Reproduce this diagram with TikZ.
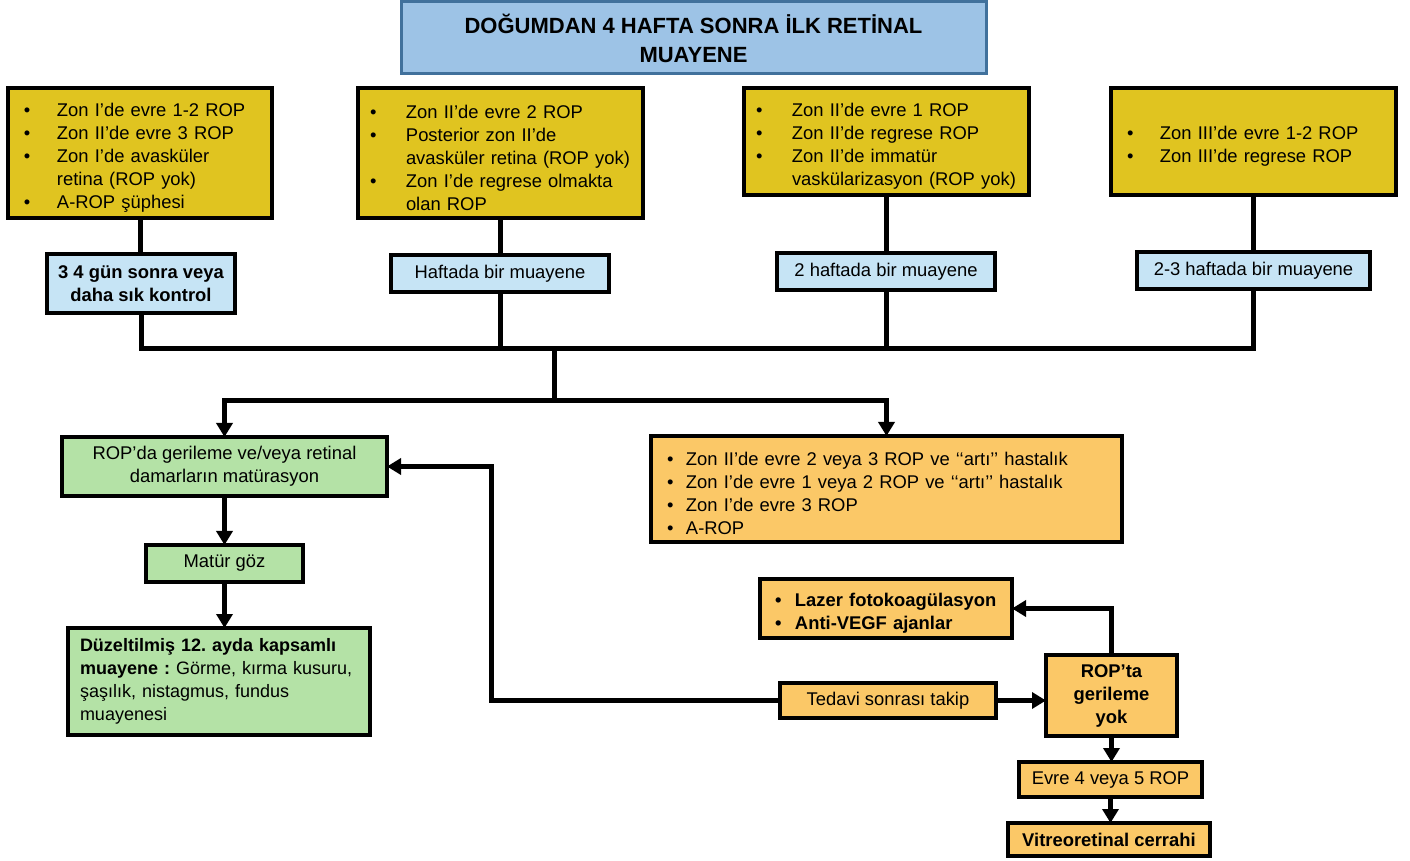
\documentclass[tikz,border=0pt]{standalone}
\usepackage{fontspec}
\setmainfont{Liberation Sans}
\usetikzlibrary{arrows.meta}
\frenchspacing
\definecolor{titleblue}{HTML}{9DC3E6}
\definecolor{titleline}{HTML}{41719C}
\definecolor{zonyellow}{HTML}{E0C420}
\definecolor{visitblue}{HTML}{C6E4F5}
\definecolor{okgreen}{HTML}{B4E2A6}
\definecolor{treatorange}{HTML}{FBC867}
\newcommand{\blt}[2][16.5pt]{\par\noindent\hangindent=#1\hangafter=1\makebox[#1][l]{\textbullet}#2\par}
\begin{document}
\begin{tikzpicture}[x=0.5pt,y=-0.5pt,>={Triangle[length=7pt,width=8pt]},line width=2.5pt,
	font=\fontsize{9.2}{11.5}\selectfont,
	box/.style={draw=black,line width=2pt,inner sep=0pt,outer sep=0pt},
	zon/.style={box,fill=zonyellow,align=left,inner xsep=8pt},
	visit/.style={box,fill=visitblue,align=center},
	okbox/.style={box,fill=okgreen,align=center},
	treat/.style={box,fill=treatorange,align=center}]
		\useasboundingbox (0,0) rectangle (1410,861);
		\node[box,fill=titleblue,draw=titleline,line width=1.5pt,minimum width=292.5pt,minimum height=36pt,align=center,font=\fontsize{11}{14.5}\selectfont\bfseries] (title) at (693.5,38) {DOĞUMDAN 4 HAFTA SONRA İLK RETİNAL\\MUAYENE};
		\node[zon,text width=116pt,minimum height=65pt] (Y1) at (140,153) {\blt{Zon I’de evre 1-2 ROP}\blt{Zon II’de evre 3 ROP}\blt{Zon I’de avasküler\break retina (ROP yok)}\blt{A-ROP şüphesi}};
		\node[zon,inner xsep=6pt,text width=130.5pt,minimum height=65pt] (Y2) at (500.5,153) {\blt[18pt]{Zon II’de evre 2 ROP}\blt[18pt]{Posterior zon II’de\break avasküler retina (ROP yok)}\blt[18pt]{Zon I’de regrese olmakta\break olan ROP}};
		\node[zon,inner xsep=6pt,text width=130.5pt,minimum height=53.5pt] (Y3) at (886.5,141.5) {\blt[18pt]{Zon II’de evre 1 ROP}\blt[18pt]{Zon II’de regrese ROP}\blt[18pt]{Zon II’de immatür\break vaskülarizasyon (ROP yok)}};
		\node[zon,text width=126.5pt,minimum height=53.5pt] (Y4) at (1253.5,141.5) {\blt{Zon III’de evre 1-2 ROP}\blt{Zon III’de regrese ROP}};
		\node[visit,font=\fontsize{9.2}{11.5}\selectfont\bfseries,minimum width=94pt,minimum height=29.5pt] (B1) at (141,283.5) {3 4 gün sonra veya\\daha sık kontrol};
		\node[visit,minimum width=109pt,minimum height=18.5pt] (B2) at (500,273.5) {Haftada bir muayene};
		\node[visit,minimum width=109pt,minimum height=18.5pt] (B3) at (886,271.5) {2 haftada bir muayene};
		\node[visit,minimum width=116.5pt,minimum height=18.5pt] (B4) at (1253.5,270.5) {2-3 haftada bir muayene};
		\node[okbox,minimum width=162.5pt,minimum height=29.5pt] (G1) at (224.5,466.5) {ROP’da gerileme ve/veya retinal\\damarların matürasyon};
		\node[okbox,minimum width=78.5pt,minimum height=18.5pt] (G2) at (224.5,563.5) {Matür göz};
		\node[okbox,align=left,inner xsep=6pt,text width=139pt,minimum height=53.5pt,font=\fontsize{9}{11.5}\selectfont] (G3) at (219,681.5) {\textbf{Düzeltilmiş 12. ayda kapsamlı}\break\textbf{muayene :} Görme, kırma kusuru,\break şaşılık, nistagmus, fundus\break muayenesi};
		\node[treat,align=left,text width=219.5pt,inner xsep=8pt,minimum height=53pt] (O1) at (886.5,489) {\blt[9.5pt]{Zon II’de evre 2 veya 3 ROP ve ‘‘artı’’ hastalık}\blt[9.5pt]{Zon I’de evre 1 veya 2 ROP ve ‘‘artı’’ hastalık}\blt[9.5pt]{Zon I’de evre 3 ROP}\blt[9.5pt]{A-ROP}};
		\node[treat,align=left,text width=111pt,inner xsep=7.5pt,minimum height=29.5pt,font=\fontsize{9.2}{11.5}\selectfont\bfseries] (O2) at (886,608.5) {\blt[10pt]{Lazer fotokoagülasyon}\blt[10pt]{Anti-VEGF ajanlar}};
		\node[treat,minimum width=65.5pt,minimum height=40.5pt,font=\fontsize{9.2}{11.5}\selectfont\bfseries] (O3) at (1111.5,695.5) {ROP’ta\\gerileme\\yok};
		\node[treat,minimum width=108pt,minimum height=17.5pt] (O4) at (888,700.5) {Tedavi sonrası takip};
		\node[treat,minimum width=91.5pt,minimum height=17.5pt] (O5) at (1110.5,779.5) {Evre 4 veya 5 ROP};
		\node[treat,minimum width=101pt,minimum height=16.5pt,font=\fontsize{9.2}{11.5}\selectfont\bfseries] (O6) at (1109,839.5) {Vitreoretinal cerrahi};
		\draw (Y1.south) -- (Y1.south |- B1.north);
		\draw (Y2.south) -- (Y2.south |- B2.north);
		\draw (Y3.south) -- (Y3.south |- B3.north);
		\draw (Y4.south) -- (Y4.south |- B4.north);
		\coordinate (bus) at (554,349);
		\coordinate (fork) at (554,401);
		\draw (B1.south) |- (bus) -| (B4.south);
		\draw (B2.south) -- (B2.south |- bus);
		\draw (B3.south) -- (B3.south |- bus);
		\draw (bus) -- (fork);
		\draw[->] (fork) -| (G1.north);
		\draw[->] (fork) -| (O1.north);
		\draw[->] (G1.south) -- (G2.north);
		\draw[->] (G2.south) -- (G2.south |- G3.north);
		\draw[->] (O3.north) |- (O2.east);
		\draw[->] (O4.east) -- (O4.east -| O3.west);
		\coordinate (loop) at (491,700.5);
		\draw[->] (O4.west) -- (loop) |- (G1.east);
		\draw[->] (O3.south) -- (O3.south |- O5.north);
		\draw[->] (O5.south) -- (O5.south |- O6.north);
\end{tikzpicture}
\end{document}
